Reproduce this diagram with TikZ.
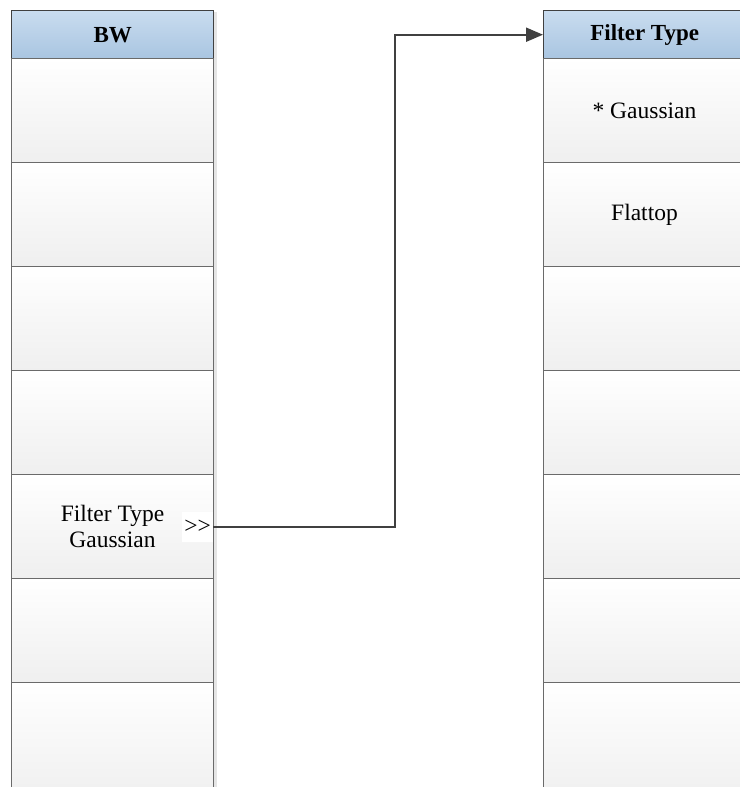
\documentclass[tikz,border=0pt]{standalone}
\usepackage{fontspec}
\setmainfont[Ligatures=NoCommon]{Liberation Serif}
\usetikzlibrary{arrows.meta}
\definecolor{hdrtop}{HTML}{C9DCEF}
\definecolor{hdrbot}{HTML}{A9C5E1}
\definecolor{hdrline}{HTML}{404040}
\definecolor{cellline}{HTML}{6A6A6A}
\definecolor{cellbot}{HTML}{EFEFEF}
\definecolor{connline}{HTML}{404040}
\begin{document}
\begin{tikzpicture}[x=1pt,y=-1pt,
  txt/.style={font=\fontsize{23.5}{26}\selectfont},
  hdr/.style={draw=hdrline, line width=1.4pt, top color=hdrtop, bottom color=hdrbot,
    minimum width=202pt, minimum height=48pt, inner sep=0pt, anchor=north west,
    font=\bfseries\fontsize{23}{26}\selectfont},
  cell/.style={draw=cellline, line width=1pt, top color=white, bottom color=cellbot,
    minimum width=202pt, minimum height=104pt, inner sep=0pt, anchor=north west,
    align=center, txt},
  lastcell/.style={cell, minimum height=120pt},
  conn/.style={draw=connline, line width=2pt, -{Triangle[length=17pt,width=14pt]}},
  shadowbar/.style={fill=black!10, draw=none}]
\useasboundingbox (0,0) rectangle (739,787);
\fill[white] (0,0) rectangle (739,787);
% shadows
\path[shadowbar] (213,12) rectangle (217,787);
% left column
\node[hdr] (lh) at (11,10) {BW};
\node[cell] (l1) at (11,58) {};
\node[cell] (l2) at (11,162) {};
\node[cell] (l3) at (11,266) {};
\node[cell] (l4) at (11,370) {};
\node[cell] (l5) at (11,474) {Filter Type\\Gaussian};
\node[cell] (l6) at (11,578) {};
\node[lastcell] (l7) at (11,682) {};
% right column
\node[hdr] (rh) at (543,10) {Filter Type};
\node[cell] (r1) at (543,58) {* Gaussian};
\node[cell] (r2) at (543,162) {Flattop};
\node[cell] (r3) at (543,266) {};
\node[cell] (r4) at (543,370) {};
\node[cell] (r5) at (543,474) {};
\node[cell] (r6) at (543,578) {};
\node[lastcell] (r7) at (543,682) {};
% marker and connector
\node[txt, fill=white, inner sep=2pt, minimum height=30pt, anchor=east] (mk) at (213,527) {{>}{>}};
\coordinate (bend) at (395,527);
\draw[conn] (mk.east) -- (bend) |- (rh.west);
\end{tikzpicture}
\end{document}
